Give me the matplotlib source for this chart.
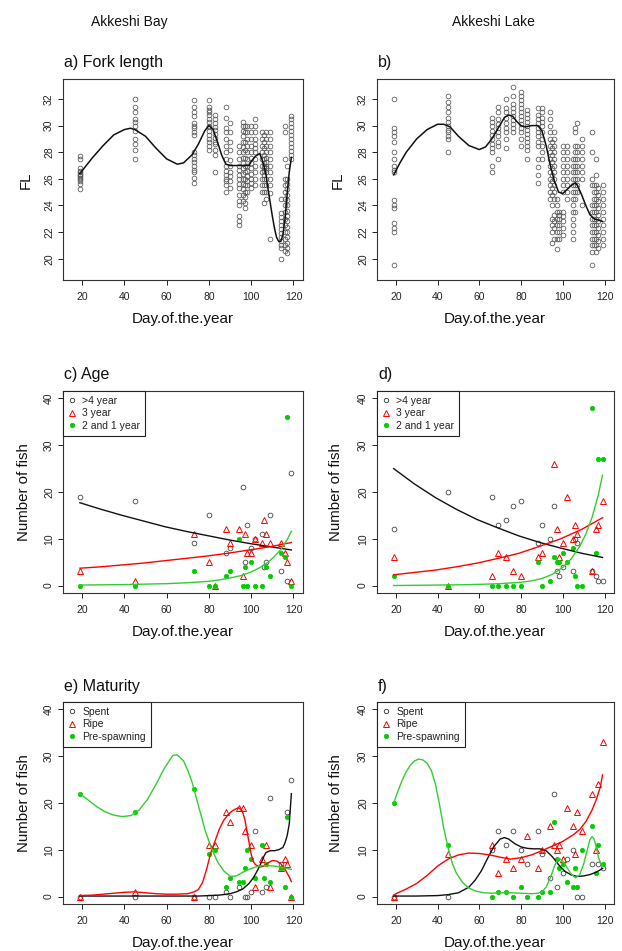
import matplotlib
matplotlib.use('Agg')
import matplotlib.pyplot as plt
from matplotlib.lines import Line2D

plt.rcParams['font.family'] = ['Liberation Sans', 'DejaVu Sans']

# ---------------- data: fork length ----------------
bay_fl_days = [19, 45, 73, 80, 83, 88, 90, 94, 96, 97, 98, 100, 102, 105, 106, 107, 109, 114, 116, 117, 119]
bay_fl_values = [
    [25.2, 25.6, 25.8, 26.0, 26.1, 26.2, 26.3, 26.4, 26.5, 26.6, 26.8, 27.5, 27.7],
    [27.5, 28.2, 28.6, 29.0, 29.6, 30.0, 30.3, 30.5, 31.0, 31.4, 32.0],
    [25.7, 26.1, 26.5, 26.7, 27.0, 27.3, 27.5, 27.8, 28.0, 29.3, 29.5, 29.8, 30.0, 30.2, 30.7, 31.0, 31.4, 31.9],
    [28.2, 28.5, 28.8, 29.0, 29.3, 29.6, 29.9, 30.0, 30.3, 30.5, 30.8, 31.0, 31.2, 31.4, 31.9],
    [26.5, 27.8, 28.2, 28.6, 28.8, 29.1, 29.4, 29.7, 29.9, 30.2, 30.5, 30.8],
    [25.0, 25.5, 25.8, 26.0, 26.3, 26.6, 27.0, 27.5, 28.0, 28.5, 29.0, 29.5, 29.8, 30.6, 31.4],
    [25.3, 25.8, 26.2, 26.5, 27.0, 27.4, 28.2, 28.8, 29.5, 30.2],
    [22.5, 22.8, 23.2, 24.0, 24.3, 24.8, 25.3, 25.6, 26.0, 26.3, 26.7, 27.0, 27.5, 28.0, 28.5],
    [24.3, 24.8, 25.2, 25.6, 26.0, 26.4, 26.8, 27.2, 27.6, 28.0, 28.4, 28.8, 29.2, 29.6, 30.0, 30.3],
    [23.8, 24.2, 24.6, 25.0, 25.5, 26.0, 26.5, 27.0, 27.6, 28.2, 28.8, 29.5, 30.0],
    [25.0, 25.5, 25.8, 26.2, 26.6, 27.0, 27.5, 28.0, 28.5, 29.0, 29.5, 30.0],
    [25.3, 25.7, 26.0, 26.4, 26.8, 27.2, 27.6, 28.0, 28.5, 29.0, 29.5, 30.0],
    [25.5, 26.0, 26.5, 27.0, 27.5, 28.0, 28.3, 28.6, 29.0, 29.5, 30.0, 30.5],
    [25.0, 25.5, 26.0, 26.5, 27.0, 27.5, 28.0, 28.5, 29.0, 29.5],
    [24.2, 25.0, 25.5, 26.0, 26.3, 26.6, 26.8, 27.0, 27.2, 27.5, 27.8, 28.3, 28.8, 29.3],
    [24.5, 25.0, 25.5, 26.0, 26.5, 26.8, 27.0, 27.3, 27.6, 28.0, 28.5, 29.0, 29.5],
    [21.5, 24.9, 25.5, 26.0, 26.5, 27.0, 27.5, 28.0, 28.5, 29.0, 29.5],
    [20.0, 20.8, 21.0, 21.3, 21.6, 21.9, 22.2, 22.5, 22.8, 23.1, 23.4, 24.5],
    [20.6, 21.0, 21.5, 22.0, 22.5, 23.0, 23.5, 24.0, 24.5, 25.0, 25.5, 26.0, 27.5, 29.5, 30.0],
    [20.4, 20.8, 21.2, 21.6, 22.0, 22.4, 22.8, 23.2, 23.6, 24.0, 24.4, 24.8, 25.2, 25.6, 26.0, 27.0],
    [27.5, 27.8, 28.1, 28.4, 28.7, 29.0, 29.3, 29.6, 29.9, 30.2, 30.5, 30.7],
]
bay_fl_fit_day = [19, 22, 25, 30, 35, 40, 43, 45, 50, 55, 60, 65, 68, 72, 75, 78, 80, 82, 84, 86, 88, 90, 93, 96, 99,
                  100, 102, 104, 105, 106, 107, 108, 109, 110, 111, 112, 113, 114, 115, 116, 117, 118, 119]
bay_fl_fit_val = [26.4, 27.0, 27.6, 28.5, 29.3, 29.7, 29.8, 29.7, 29.2, 28.3, 27.5, 27.1, 27.2, 27.8, 28.6, 29.6, 30.0, 29.7,
                  28.8, 27.8, 27.1, 27.0, 27.0, 27.0, 27.0, 27.3, 27.7, 27.9, 27.5, 27.0, 26.3, 25.2, 24.2, 23.2, 22.3,
                  21.6, 21.3, 21.3, 21.8, 23.0, 24.8, 26.5, 27.6]

lake_fl_days = [19, 45, 66, 69, 73, 76, 80, 83, 88, 90, 94, 95, 96, 97, 98, 100, 102, 105, 106, 107, 109, 114, 115, 116, 117, 119]
lake_fl_values = [
    [19.5, 22.0, 22.3, 22.7, 23.8, 24.0, 24.4, 26.5, 26.7, 27.0, 27.5, 28.0, 28.8, 29.2, 29.5, 29.8, 32.0],
    [28.0, 29.0, 29.2, 29.5, 29.7, 30.0, 30.3, 30.6, 31.0, 31.4, 31.8, 32.2],
    [26.5, 27.0, 28.0, 28.3, 28.6, 29.0, 29.3, 29.6, 30.0, 30.3, 30.6],
    [27.5, 28.5, 28.8, 29.2, 29.5, 29.8, 30.1, 30.5, 31.0, 31.4],
    [28.3, 29.0, 29.5, 29.8, 30.2, 30.6, 31.0, 31.3, 32.0],
    [29.5, 29.8, 30.1, 30.4, 30.7, 31.0, 31.3, 31.6, 32.2, 32.9],
    [28.5, 29.0, 29.5, 29.8, 30.1, 30.4, 30.7, 31.0, 31.3, 31.6, 31.9, 32.2, 32.5],
    [27.5, 28.2, 28.5, 28.8, 29.1, 29.4, 29.7, 30.0, 30.3, 30.6, 30.9, 31.2],
    [25.7, 26.3, 26.9, 27.5, 28.5, 28.8, 29.2, 29.5, 29.8, 30.2, 30.5, 30.8, 31.3],
    [27.5, 28.0, 28.5, 29.0, 29.5, 30.0, 30.3, 30.6, 31.0, 31.3],
    [24.5, 25.0, 25.5, 26.0, 26.5, 27.0, 27.5, 28.0, 28.5, 29.0, 29.5, 30.0, 30.5, 31.0],
    [21.2, 22.0, 22.5, 23.0, 24.0, 24.8, 25.3, 25.8, 26.3, 26.8, 27.3, 27.8, 28.3, 28.8],
    [21.5, 22.3, 22.8, 23.3, 24.5, 25.0, 25.5, 26.0, 26.5, 27.0, 27.5, 28.0, 28.5, 29.0, 29.5],
    [20.7, 21.5, 22.0, 22.5, 23.0, 23.5, 24.0, 24.5],
    [21.5, 22.0, 22.5, 23.0, 23.3, 23.5],
    [21.8, 22.3, 22.8, 23.2, 23.5, 25.0, 25.5, 26.0, 26.5, 27.0, 27.5, 28.0, 28.5],
    [24.5, 25.0, 25.5, 26.0, 26.5, 27.0, 27.5, 28.0, 28.5],
    [21.5, 22.0, 22.5, 23.0, 23.5, 24.0, 24.5, 25.0, 25.5, 26.0, 26.5, 27.0, 27.5],
    [23.5, 24.5, 25.0, 25.5, 26.0, 26.5, 27.0, 27.5, 28.0, 28.5, 29.5, 29.8],
    [25.0, 25.5, 26.0, 26.5, 27.0, 27.5, 28.0, 28.5, 30.2],
    [24.0, 26.0, 26.5, 27.0, 27.5, 28.0, 28.5, 29.0],
    [19.5, 20.5, 21.0, 21.5, 22.0, 22.5, 23.0, 23.5, 24.0, 25.5, 26.0, 28.0, 29.5],
    [21.0, 21.5, 22.0, 22.5, 23.0, 23.5, 24.0, 24.5, 25.0, 25.5],
    [20.5, 21.0, 21.5, 22.0, 22.5, 23.0, 23.5, 24.0, 24.5, 25.0, 25.5, 26.3, 27.5],
    [20.8, 21.3, 21.8, 22.3, 22.8, 23.3, 23.8, 24.3, 24.8, 25.3],
    [21.0, 21.5, 22.0, 22.5, 23.0, 23.5, 24.0, 24.5, 25.0, 25.5],
]
lake_fl_fit_day = [19, 22, 25, 30, 35, 40, 43, 46, 50, 55, 60, 63, 66, 69, 72, 74, 76, 78, 80, 82, 85, 88, 90, 92, 94,
                   96, 98, 100, 102, 104, 106, 107, 109, 111, 113, 115, 117, 119]
lake_fl_fit_val = [26.3, 27.2, 28.0, 29.0, 29.7, 30.1, 30.1, 29.9, 29.2, 28.5, 28.2, 28.4, 29.0, 29.8, 30.6, 30.8, 30.7,
                   30.3, 30.0, 29.9, 30.0, 30.0, 29.6, 28.5, 27.0, 25.8, 25.0, 24.9, 25.2, 25.5, 25.7, 25.5, 24.8,
                   24.0, 23.3, 23.0, 22.9, 22.8]

# ---------------- data: age ----------------
bay_old_day = [19, 45, 73, 80, 88, 90, 96, 97, 98, 100, 102, 105, 106, 107, 109, 114, 117, 119]
bay_old_n = [19, 18, 9, 15, 7, 8, 21, 5, 13, 8, 10, 11, 4, 5, 15, 3, 1, 24]
bay_3y_day = [19, 45, 73, 80, 83, 88, 90, 94, 96, 97, 98, 100, 102, 105, 106, 107, 109, 114, 116, 117, 119]
bay_3y_n = [3, 1, 11, 5, 0, 12, 9, 12, 2, 11, 7, 7, 10, 9, 14, 11, 9, 9, 7, 5, 1]
bay_young_day = [19, 45, 73, 80, 83, 88, 90, 94, 96, 97, 98, 100, 102, 105, 107, 109, 114, 116, 117, 119]
bay_young_n = [0, 0, 3, 0, 0, 2, 3, 10, 0, 4, 0, 5, 0, 0, 4, 2, 7, 6, 36, 0]

age_fit_day = [19, 29, 39, 49, 59, 69, 79, 89, 99, 109, 119]
bay_old_fit = [17.7, 16.3, 15.0, 13.8, 12.6, 11.6, 10.7, 9.8, 9.0, 8.3, 7.6]
bay_3y_fit = [3.7, 4.0, 4.4, 4.8, 5.3, 5.8, 6.3, 6.9, 7.6, 8.3, 9.2]
young_fit_day = [19, 30, 40, 50, 60, 70, 80, 85, 90, 95, 100, 104, 108, 111, 114, 117, 119]
bay_young_fit = [0.1, 0.15, 0.2, 0.3, 0.4, 0.6, 0.9, 1.2, 1.6, 2.1, 2.9, 3.8, 5.0, 6.2, 7.7, 9.8, 11.6]

lake_old_day = [19, 45, 66, 69, 73, 76, 80, 88, 90, 94, 96, 97, 98, 100, 105, 106, 107, 114, 116, 117, 119]
lake_old_n = [12, 20, 19, 13, 14, 17, 18, 9, 13, 10, 17, 3, 2, 4, 3, 10, 9, 3, 2, 1, 1]
lake_3y_day = [19, 45, 66, 69, 73, 76, 80, 88, 90, 96, 97, 98, 100, 102, 105, 106, 107, 114, 116, 117, 119]
lake_3y_n = [6, 0, 2, 7, 6, 3, 2, 6, 7, 26, 12, 6, 9, 19, 10, 13, 11, 3, 12, 13, 18]
lake_young_day = [19, 45, 66, 69, 73, 76, 80, 88, 90, 94, 96, 97, 98, 100, 102, 105, 106, 107, 109, 114, 116, 117, 119]
lake_young_n = [2, 0, 0, 0, 0, 0, 0, 5, 0, 1, 6, 5, 5, 7, 5, 8, 2, 0, 0, 38, 7, 27, 27]

lake_old_fit = [25.0, 21.7, 18.8, 16.3, 14.1, 12.3, 10.6, 9.2, 8.0, 6.9, 6.0]
lake_3y_fit = [2.3, 2.8, 3.3, 4.0, 4.8, 5.8, 6.9, 8.4, 10.0, 12.0, 14.5]
lake_young_fit = [0.0, 0.05, 0.1, 0.15, 0.25, 0.4, 0.7, 1.0, 1.5, 2.4, 3.9, 5.7, 8.3, 11.0, 14.6, 19.4, 23.6]

# ---------------- data: maturity ----------------
bay_spent_day = [19, 45, 73, 80, 83, 88, 90, 94, 97, 98, 100, 102, 105, 107, 109, 114, 117, 119]
bay_spent_n = [0, 0, 0, 0, 0, 1, 0, 2, 0, 0, 1, 14, 1, 2, 21, 7, 18, 25]
bay_ripe_day = [19, 45, 73, 80, 83, 88, 90, 94, 96, 97, 100, 102, 105, 107, 109, 114, 116, 117, 119]
bay_ripe_n = [0, 1, 0, 11, 11, 18, 16, 19, 19, 14, 11, 2, 8, 11, 2, 6, 8, 7, 0]
bay_pre_day = [19, 45, 73, 80, 83, 88, 90, 94, 96, 97, 98, 100, 102, 105, 106, 107, 109, 114, 116, 117, 119]
bay_pre_n = [22, 18, 23, 9, 10, 2, 4, 3, 3, 6, 10, 8, 4, 11, 4, 7, 3, 6, 2, 17, 0]

bay_pre_fit_day = [19, 23, 27, 31, 35, 39, 43, 47, 51, 55, 59, 63, 65, 68, 70, 72, 75, 78, 81, 84, 87, 90, 93, 96, 99,
                   102, 105, 108, 111, 114, 117, 119]
bay_pre_fit = [22.0, 20.6, 19.2, 18.1, 17.4, 17.1, 17.3, 18.5, 20.8, 24.0, 27.5, 30.2, 30.3, 29.0, 27.0, 24.5, 19.5,
               14.5, 10.5, 7.5, 5.5, 4.3, 4.4, 5.2, 5.8, 6.3, 6.6, 6.6, 6.5, 6.3, 6.0, 5.8]
bay_ripe_fit_day = [19, 25, 30, 35, 40, 45, 50, 55, 60, 65, 70, 73, 75, 77, 79, 81, 83, 85, 87, 89, 91, 93, 94, 95, 96,
                    97, 98, 99, 100, 101, 102, 104, 106, 108, 110, 112, 114, 116, 118, 119]
bay_ripe_fit = [0.2, 0.3, 0.5, 0.7, 0.9, 1.0, 0.8, 0.6, 0.5, 0.5, 0.6, 1.0, 1.5, 3.0, 6.0, 9.5, 12.0, 14.5, 16.3, 17.5,
                18.3, 18.8, 19.0, 18.7, 18.0, 16.5, 14.0, 11.5, 9.0, 7.5, 6.8, 6.3, 6.5, 7.2, 7.7, 7.6, 7.0, 5.8,
                4.2, 3.2]
bay_spent_fit_day = [19, 30, 40, 50, 60, 70, 75, 80, 85, 90, 93, 96, 99, 101, 103, 105, 106, 107, 109, 111, 113, 115,
                     116, 117, 118, 119]
bay_spent_fit = [0.1, 0.1, 0.1, 0.1, 0.1, 0.1, 0.1, 0.2, 0.3, 0.6, 1.0, 1.6, 2.8, 4.0, 5.6, 7.5, 8.6, 9.4, 9.8, 9.8,
                 10.0, 10.5, 11.5, 13.0, 15.5, 22.0]

lake_spent_day = [19, 45, 66, 69, 73, 76, 80, 83, 88, 90, 94, 96, 97, 100, 102, 105, 107, 109, 114, 117, 119]
lake_spent_n = [0, 0, 10, 14, 11, 14, 10, 7, 14, 9, 4, 22, 2, 5, 8, 10, 0, 0, 7, 7, 6]
lake_ripe_day = [19, 45, 66, 69, 73, 76, 80, 83, 88, 90, 94, 96, 97, 98, 100, 102, 105, 106, 107, 109, 114, 116, 117, 119]
lake_ripe_n = [0, 9, 11, 5, 8, 6, 8, 13, 6, 10, 15, 11, 10, 11, 8, 19, 15, 9, 18, 14, 22, 10, 24, 33]
lake_pre_day = [19, 45, 66, 69, 73, 76, 80, 83, 88, 90, 94, 96, 97, 98, 100, 102, 105, 106, 107, 109, 114, 116, 117, 119]
lake_pre_n = [20, 11, 0, 1, 1, 0, 2, 0, 0, 1, 1, 16, 8, 6, 7, 3, 2, 6, 2, 10, 15, 5, 11, 7]

lake_pre_fit_day = [19, 21, 23, 25, 27, 29, 31, 33, 35, 37, 39, 41, 43, 45, 47, 49, 52, 55, 58, 62, 66, 70, 75, 80, 85,
                    88, 90, 92, 94, 96, 97, 98, 100, 102, 104, 106, 108, 110, 112, 113, 114, 115, 116, 117, 118, 119]
lake_pre_fit = [20.0, 22.5, 24.8, 26.7, 28.1, 29.0, 29.4, 29.2, 28.5, 27.0, 24.0, 19.5, 14.5, 10.5, 7.2, 5.0, 3.0, 1.8,
                1.2, 0.8, 0.7, 0.8, 0.8, 0.7, 0.6, 0.7, 1.0, 2.0, 4.0, 6.5, 7.5, 8.2, 7.6, 6.2, 4.8, 4.0, 4.6, 7.0,
                10.5, 12.2, 12.8, 12.3, 10.5, 8.5, 7.2, 6.5]
lake_ripe_fit_day = [19, 21, 25, 30, 35, 40, 45, 50, 55, 60, 65, 70, 75, 80, 85, 90, 95, 100, 105, 108, 111, 114, 116,
                     118, 119]
lake_ripe_fit = [0.3, 0.8, 1.6, 2.8, 4.5, 6.5, 8.0, 8.9, 9.3, 9.2, 8.9, 8.4, 8.0, 8.3, 8.9, 9.8, 10.8, 11.8, 13.2, 14.3,
                 16.0, 18.5, 20.7, 23.5, 26.0]
lake_spent_fit_day = [19, 30, 40, 45, 50, 55, 58, 61, 64, 67, 70, 72, 74, 77, 80, 83, 86, 89, 92, 95, 98, 101, 104, 107,
                      110, 113, 116, 119]
lake_spent_fit = [0.1, 0.1, 0.2, 0.4, 0.8, 2.0, 3.5, 5.5, 8.2, 10.7, 12.3, 12.6, 12.3, 11.3, 10.6, 10.3, 10.2, 10.2,
                  9.8, 8.5, 6.8, 5.4, 4.6, 4.3, 4.4, 4.7, 5.2, 6.0]

age_labels = ['>4 year', '3 year', '2 and 1 year']
mat_labels = ['Spent', 'Ripe', 'Pre-spawning']

# ---------------- styling ----------------
W, H = 622, 951
RED = '#FF0000'
GREEN_PT = '#00CD00'
GREEN_LN = '#33CC33'
DARK = '#222222'

fig = plt.figure(figsize=(W / 100, H / 100), dpi=100)


def add_ax(l, t, r, b):
    return fig.add_axes([l / W, 1 - b / H, (r - l) / W, (b - t) / H])


def style(ax, yticks, ylim):
    ax.set_xlim(11, 124.5)
    ax.set_ylim(*ylim)
    ax.set_xticks([20, 40, 60, 80, 100, 120])
    ax.set_yticks(yticks)
    ax.tick_params(direction='out', length=3.5, width=0.7, colors=DARK, labelsize=7.5, pad=3)
    ax.tick_params(axis='x', pad=5)
    for lab in ax.get_yticklabels():
        lab.set_rotation(90)
        lab.set_va('center')
    for s in ax.spines.values():
        s.set_linewidth(0.8)
        s.set_color('#333333')


def legend(ax, labels):
    handles = [
        Line2D([], [], ls='none', marker='o', mfc='none', mec='#333333', ms=3.2, mew=0.6),
        Line2D([], [], ls='none', marker='^', mfc='none', mec=RED, ms=4.5, mew=0.7),
        Line2D([], [], ls='none', marker='o', mfc=GREEN_PT, mec=GREEN_PT, ms=3.2, mew=0.5),
    ]
    lg = ax.legend(handles, labels, loc='upper left', borderaxespad=0, fontsize=7.5, frameon=True,
                   fancybox=False, framealpha=1, edgecolor='#222222', borderpad=0.45, labelspacing=0.25,
                   handlelength=0.9, handletextpad=0.5)
    lg.get_frame().set_linewidth(0.8)
    for t in lg.get_texts():
        t.set_color(DARK)


def fl_panel(ax, days, values, fday, fval):
    xs, ys = [], []
    for d, vals in zip(days, values):
        xs.extend([d] * len(vals))
        ys.extend(vals)
    ax.plot(xs, ys, ls='none', marker='o', mfc='none', mec='#555555', ms=3.4, mew=0.55)
    ax.plot(fday, fval, color='#111111', lw=1.1)
    style(ax, [20, 22, 24, 26, 28, 30, 32], (18.4, 33.5))


def count_panel(ax, d1, n1, d2, n2, d3, n3, f1, v1, f2, v2, f3, v3, labels):
    ax.plot(d1, n1, ls='none', marker='o', mfc='none', mec='#444444', ms=3.4, mew=0.6)
    ax.plot(d2, n2, ls='none', marker='^', mfc='none', mec=RED, ms=4.8, mew=0.7)
    ax.plot(d3, n3, ls='none', marker='o', mfc=GREEN_PT, mec=GREEN_PT, ms=3.2, mew=0.5)
    ax.plot(f1, v1, color='#111111', lw=1.0)
    ax.plot(f2, v2, color=RED, lw=1.0)
    ax.plot(f3, v3, color=GREEN_LN, lw=1.0)
    style(ax, [0, 10, 20, 30, 40], (-1.6, 41.6))
    legend(ax, labels)


# panel boxes (pixels)
L1, R1, L2, R2 = 63, 303, 377, 614
rows = [(79, 280), (391, 593), (702, 904)]

axa = add_ax(L1, rows[0][0], R1, rows[0][1])
axb = add_ax(L2, rows[0][0], R2, rows[0][1])
axc = add_ax(L1, rows[1][0], R1, rows[1][1])
axd = add_ax(L2, rows[1][0], R2, rows[1][1])
axe = add_ax(L1, rows[2][0], R1, rows[2][1])
axf = add_ax(L2, rows[2][0], R2, rows[2][1])

fl_panel(axa, bay_fl_days, bay_fl_values, bay_fl_fit_day, bay_fl_fit_val)
fl_panel(axb, lake_fl_days, lake_fl_values, lake_fl_fit_day, lake_fl_fit_val)

count_panel(axc, bay_old_day, bay_old_n, bay_3y_day, bay_3y_n, bay_young_day, bay_young_n,
            age_fit_day, bay_old_fit, age_fit_day, bay_3y_fit, young_fit_day, bay_young_fit, age_labels)
count_panel(axd, lake_old_day, lake_old_n, lake_3y_day, lake_3y_n, lake_young_day, lake_young_n,
            age_fit_day, lake_old_fit, age_fit_day, lake_3y_fit, young_fit_day, lake_young_fit, age_labels)
count_panel(axe, bay_spent_day, bay_spent_n, bay_ripe_day, bay_ripe_n, bay_pre_day, bay_pre_n,
            bay_spent_fit_day, bay_spent_fit, bay_ripe_fit_day, bay_ripe_fit, bay_pre_fit_day, bay_pre_fit,
            mat_labels)
count_panel(axf, lake_spent_day, lake_spent_n, lake_ripe_day, lake_ripe_n, lake_pre_day, lake_pre_n,
            lake_spent_fit_day, lake_spent_fit, lake_ripe_fit_day, lake_ripe_fit, lake_pre_fit_day, lake_pre_fit,
            mat_labels)


def ftext(x, y, s, **kw):
    fig.text(x / W, 1 - y / H, s, color='#111111', **kw)


ftext(129, 22, 'Akkeshi Bay', fontsize=10, ha='center', va='center')
ftext(493, 22, 'Akkeshi Lake', fontsize=10, ha='center', va='center')

ftext(64, 63, 'a) Fork length', fontsize=11.5, ha='left', va='center')
ftext(378, 63, 'b)', fontsize=11.5, ha='left', va='center')
ftext(64, 375, 'c) Age', fontsize=11.5, ha='left', va='center')
ftext(378, 375, 'd)', fontsize=11.5, ha='left', va='center')
ftext(64, 686, 'e) Maturity', fontsize=11.5, ha='left', va='center')
ftext(378, 686, 'f)', fontsize=11.5, ha='left', va='center')

for yy in (319, 632, 943):
    ftext(183, yy, 'Day.of.the.year', fontsize=11, ha='center', va='center')
    ftext(495, yy, 'Day.of.the.year', fontsize=11, ha='center', va='center')

ftext(26, 180, 'FL', fontsize=10.8, ha='center', va='center', rotation=90)
ftext(338, 180, 'FL', fontsize=10.8, ha='center', va='center', rotation=90)
for yc in (492, 803):
    ftext(24, yc, 'Number of fish', fontsize=10.8, ha='center', va='center', rotation=90)
    ftext(336, yc, 'Number of fish', fontsize=10.8, ha='center', va='center', rotation=90)

fig.savefig('out.png', dpi=100)
